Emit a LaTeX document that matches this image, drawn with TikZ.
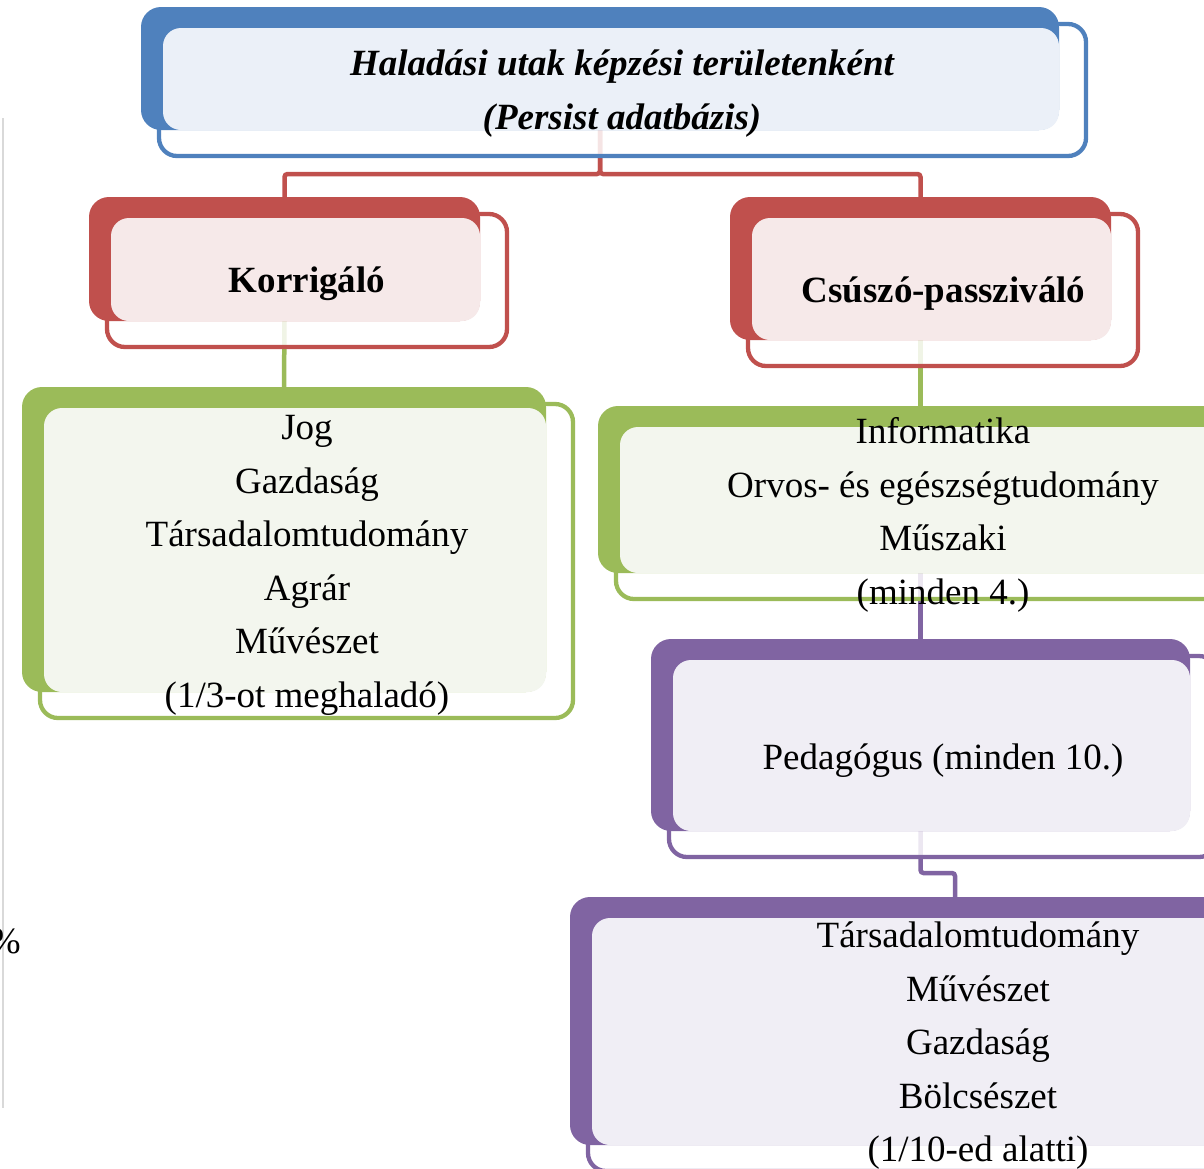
\documentclass[tikz,border=0pt]{standalone}
\usepackage{fontspec}
\setmainfont{Liberation Serif}
\usetikzlibrary{calc}
\pgfdeclarelayer{connlayer}
\pgfdeclarelayer{outlayer}
\pgfsetlayers{connlayer,outlayer,main}
\definecolor{cblue}{HTML}{4F81BD}
\definecolor{lblue}{HTML}{EBF0F8}
\definecolor{cred}{HTML}{C0504D}
\definecolor{lred}{HTML}{F6E9E9}
\definecolor{cgreen}{HTML}{9BBB59}
\definecolor{lgreen}{HTML}{F3F6EE}
\definecolor{cpurple}{HTML}{8064A2}
\definecolor{lpurple}{HTML}{F0EEF5}
\definecolor{gline}{HTML}{D9D9D9}
\tikzset{
  darkbox/.style={rectangle, rounded corners=20pt, inner sep=0pt, outer sep=0pt, draw=none},
  outbox/.style={line width=4.3pt, rounded corners=18pt, fill=white, fill opacity=0.85},
  lightbox/.style={rounded corners=18pt},
  conn/.style={line width=4.5pt, rounded corners=3pt},
  lbl/.style={align=center, inner sep=0pt, font=\fontsize{37}{53.5}\selectfont},
  lblb/.style={align=center, inner sep=0pt, font=\fontsize{37}{53.5}\selectfont\bfseries},
  lblbi/.style={align=center, inner sep=0pt, font=\fontsize{37}{53.5}\selectfont\bfseries\itshape},
}
% #1 name, #2 dark colour, #3 light colour, #4 x1, #5 y1, #6 x2, #7 y2
\newcommand\smartbox[7]{%
  \node[darkbox, fill=#2, minimum width={#6-#4}, minimum height={#7-#5}, anchor=north west] (#1) at (#4,#5) {};
  \begin{pgfonlayer}{outlayer}
    \draw[outbox, draw=#2] ($(#1.north west)+(18,17)$) rectangle ($(#1.south east)+(27,26)$);
  \end{pgfonlayer}
  \fill[lightbox, fill=#3] ($(#1.north west)+(22,21)$) rectangle (#1.south east);
}
\begin{document}
\begin{tikzpicture}[x=1pt, y=-1pt]
\useasboundingbox (0,0) rectangle (1204,1168);
\draw[gline, line width=2pt] (2.5,118) -- (2.5,1108);
\node[lbl, anchor=base east] (pct) at (21,953) {\%};

\smartbox{top}{cblue}{lblue}{141}{7}{1059}{130}
\smartbox{kor}{cred}{lred}{89}{197}{480}{321}
\smartbox{csu}{cred}{lred}{730}{197}{1111}{340}
\smartbox{lg}{cgreen}{lgreen}{22}{387}{546}{692}
\smartbox{rg}{cgreen}{lgreen}{598}{406}{1243}{573}
\smartbox{ped}{cpurple}{lpurple}{651}{639}{1190}{831}
\smartbox{bot}{cpurple}{lpurple}{570}{897}{1340}{1145}

\node[lblbi] (ttop) at (622,93.5) {Haladási utak képzési területenként\\(Persist adatbázis)};
\node[lblb] (tkor) at (307,284) {Korrigáló};
\node[lblb] (tcsu) at (943.5,294) {Csúszó-passziváló};
\node[lbl] (tlg) at (307,565.5) {Jog\\Gazdaság\\Társadalomtudomány\\Agrár\\Művészet\\(1/3-ot meghaladó)};
\node[lbl] (trg) at (943,515) {Informatika\\Orvos- és egészségtudomány\\Műszaki\\(minden 4.)};
\node[lbl] (tped) at (943,761) {Pedagógus (minden 10.)};
\node[lbl] (tbot) at (978,1046) {Társadalomtudomány\\Művészet\\Gazdaság\\Bölcsészet\\(1/10-ed alatti)};

\begin{pgfonlayer}{connlayer}
  \draw[conn, draw=cred] (top.south) -- ++(0,44) -| (kor.north);
  \draw[conn, draw=cred] (top.south) -- ++(0,44) -| (csu.north);
  \draw[conn, draw=cgreen] (kor.south) -- (lg.north);
  \draw[conn, draw=cgreen] (csu.south) -- (rg.north);
  \draw[conn, draw=cpurple] (rg.south) -- (ped.north);
  \draw[conn, draw=cpurple] (ped.south) -- ++(0,42) -| (bot.north);
\end{pgfonlayer}
\end{tikzpicture}
\end{document}
